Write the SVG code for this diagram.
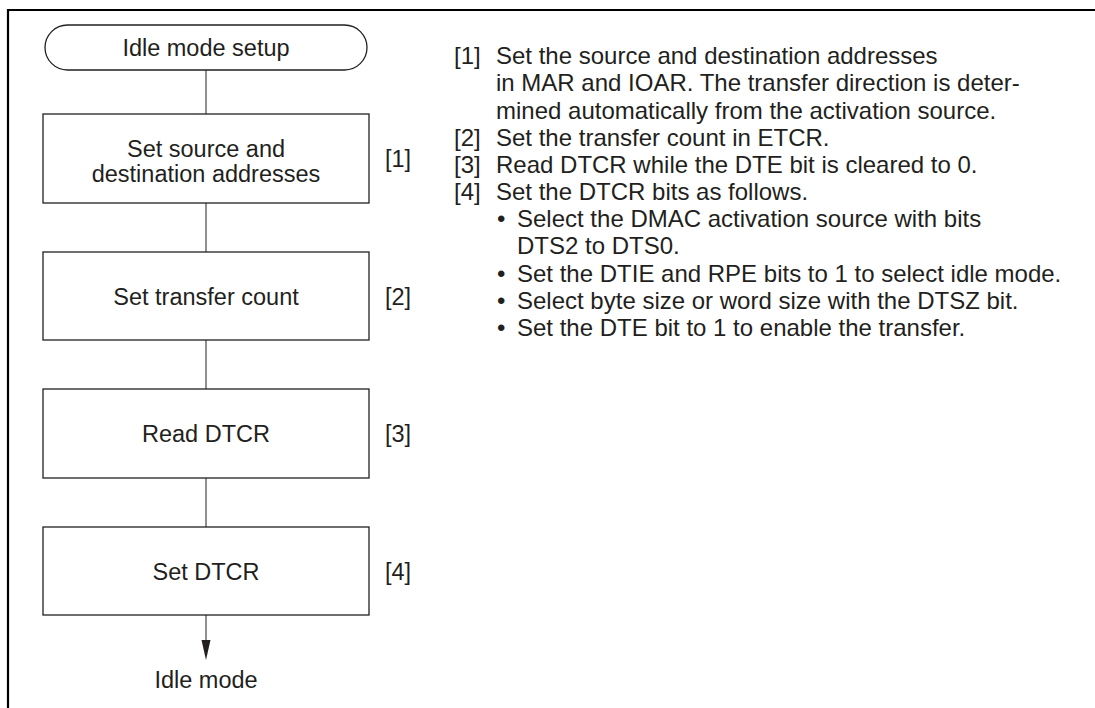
<svg xmlns="http://www.w3.org/2000/svg" width="1095" height="708" viewBox="0 0 1095 708">
<style>
  text { font-family: "Liberation Sans", Arial, sans-serif; fill: #231f20; }
  .bt { font-size: 23.5px; text-anchor: middle; }
  .lb { font-size: 23.5px; }
  .rt { font-size: 24px; }
  .box { fill: #ffffff; stroke: #231f20; stroke-width: 1.3; }
  .con { stroke: #231f20; stroke-width: 1; fill: none; }
  .frame { stroke: #000000; stroke-width: 2.2; fill: none; }
</style>
<defs>
  <marker id="arr" markerWidth="10" markerHeight="20" refX="5" refY="20" orient="auto-start-reverse" markerUnits="userSpaceOnUse" viewBox="0 0 10 20">
    <path d="M0,0 L10,0 L5,20 Z" fill="#231f20"/>
  </marker>
</defs>
<rect width="1095" height="708" fill="#ffffff"/>
<path class="frame" d="M8,708 L8,10 L1095,10"/>

<g id="connectors">
  <line class="con" x1="206" y1="70" x2="206" y2="114"/>
  <line class="con" x1="206" y1="203" x2="206" y2="252"/>
  <line class="con" x1="206" y1="340" x2="206" y2="389"/>
  <line class="con" x1="206" y1="478" x2="206" y2="527"/>
  <line class="con" x1="206" y1="615" x2="206" y2="641"/>
  <path d="M201.5,640 L210.5,640 L206,660 Z" fill="#231f20"/>
</g>

<g id="start">
  <rect class="box" x="45" y="25" width="322" height="45" rx="22.5" ry="22.5"/>
  <text class="bt" x="206" y="56">Idle mode setup</text>
</g>
<g id="step1">
  <rect class="box" x="43" y="114" width="326" height="89"/>
  <text class="bt" x="206" y="157">Set source and</text>
  <text class="bt" x="206" y="182">destination addresses</text>
  <text class="lb" x="385" y="167">[1]</text>
</g>
<g id="step2">
  <rect class="box" x="43" y="252" width="326" height="88"/>
  <text class="bt" x="206" y="305">Set transfer count</text>
  <text class="lb" x="385" y="305">[2]</text>
</g>
<g id="step3">
  <rect class="box" x="43" y="389" width="326" height="89"/>
  <text class="bt" x="206" y="442">Read DTCR</text>
  <text class="lb" x="385" y="442">[3]</text>
</g>
<g id="step4">
  <rect class="box" x="43" y="527" width="326" height="88"/>
  <text class="bt" x="206" y="580">Set DTCR</text>
  <text class="lb" x="385" y="580">[4]</text>
</g>
<g id="end">
  <text class="bt" x="206" y="688">Idle mode</text>
</g>

<g id="notes">
  <text class="rt" x="454" y="64">[1]</text>
  <text class="rt" x="496" y="64">Set the source and destination addresses</text>
  <text class="rt" x="496" y="91">in MAR and IOAR. The transfer direction is deter-</text>
  <text class="rt" x="496" y="118.5">mined automatically from the activation source.</text>
  <text class="rt" x="454" y="145.5">[2]</text>
  <text class="rt" x="496" y="145.5">Set the transfer count in ETCR.</text>
  <text class="rt" x="454" y="172.5">[3]</text>
  <text class="rt" x="496" y="172.5">Read DTCR while the DTE bit is cleared to 0.</text>
  <text class="rt" x="454" y="199.5">[4]</text>
  <text class="rt" x="496" y="199.5">Set the DTCR bits as follows.</text>
  <text class="rt" x="497" y="227">•</text>
  <text class="rt" x="517" y="227">Select the DMAC activation source with bits</text>
  <text class="rt" x="517" y="254">DTS2 to DTS0.</text>
  <text class="rt" x="497" y="281.5">•</text>
  <text class="rt" x="517" y="281.5">Set the DTIE and RPE bits to 1 to select idle mode.</text>
  <text class="rt" x="497" y="308.5">•</text>
  <text class="rt" x="517" y="308.5">Select byte size or word size with the DTSZ bit.</text>
  <text class="rt" x="497" y="336">•</text>
  <text class="rt" x="517" y="336">Set the DTE bit to 1 to enable the transfer.</text>
</g>
</svg>
